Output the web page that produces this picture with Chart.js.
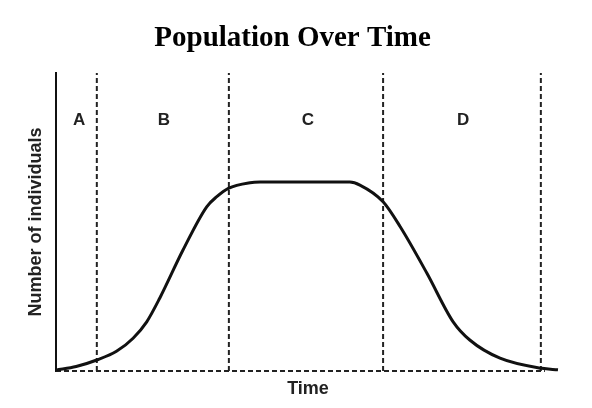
<!DOCTYPE html>
<html>
<head>
<meta charset="utf-8">
<script src="https://cdn.jsdelivr.net/npm/chart.js@4/dist/chart.umd.min.js"></script>
<style>
  html, body { margin: 0; padding: 0; background: #fff; }
  #c { display: block; }
</style>
</head>
<body>
<canvas id="c" width="592" height="408"></canvas>
<script>
// Time (arbitrary units 0-100) and population (0-100 % of axis height)
const timeValues = [0, 4.0, 8.1, 12.0, 15.3, 18.0, 20.6, 25.2, 29.9, 31.9, 34.2, 38.5, 40.5, 58.3, 60.3, 64.9, 68.3, 73.6, 78.8, 82.1, 88.1, 96.4, 99.6];
const populationValues = [0.3, 1.5, 3.7, 6.6, 11.0, 16.5, 24.5, 40.6, 55.1, 58.5, 61.3, 63.2, 63.4, 63.4, 62.4, 56.8, 48.4, 32.8, 16.5, 10.4, 4.3, 0.9, 0.4];
// Phase boundaries (dashed verticals), phase labels and their positions
const phaseBoundaries = [8.1, 34.3, 64.9, 96.2];
const phaseLabels = ['A', 'B', 'C', 'D'];
const phaseLabelTimes = [4.6, 21.4, 50.0, 80.8];
const baselineEnd = 97;
const labelLevel = 84;

const dashStyle = { borderColor: '#222', borderWidth: 2, borderDash: [5, 3], pointRadius: 0, clip: false, tension: 0 };

const datasets = [
  {
    data: timeValues.map((t, i) => ({ x: t, y: populationValues[i] })),
    borderColor: '#111',
    borderWidth: 3,
    pointRadius: 0,
    cubicInterpolationMode: 'monotone',
    clip: false,
    order: 0
  },
  Object.assign({ data: [{ x: 0, y: 0 }, { x: baselineEnd, y: 0 }], order: 1 }, dashStyle)
];
phaseBoundaries.forEach(b => {
  datasets.push(Object.assign({ data: [{ x: b, y: 0 }, { x: b, y: 100 }], order: 1 }, dashStyle));
});

const phaseLabelPlugin = {
  id: 'phaseLabels',
  afterDatasetsDraw(chart) {
    const { ctx, scales: { x, y } } = chart;
    ctx.save();
    ctx.font = 'bold 17px "Liberation Sans", Arial, sans-serif';
    ctx.fillStyle = '#222';
    ctx.textAlign = 'center';
    ctx.textBaseline = 'middle';
    phaseLabels.forEach((lab, i) => {
      ctx.fillText(lab, x.getPixelForValue(phaseLabelTimes[i]), y.getPixelForValue(labelLevel));
    });
    ctx.restore();
  }
};

new Chart(document.getElementById('c'), {
  type: 'line',
  data: { datasets },
  options: {
    responsive: false,
    animation: false,
    layout: { padding: { left: 25.2, right: 32, top: 0, bottom: 0 } },
    plugins: {
      legend: { display: false },
      tooltip: { enabled: false },
      title: {
        display: true,
        text: 'Population Over Time',
        color: '#000',
        font: { family: '"Liberation Serif", "Times New Roman", serif', size: 29, weight: 'bold', lineHeight: 1.2 },
        padding: { top: 21.6, bottom: 16.6 }
      }
    },
    scales: {
      x: {
        type: 'linear',
        min: 0,
        max: 100,
        grid: { display: false, drawTicks: false },
        ticks: { display: false },
        border: { display: false },
        title: {
          display: true,
          text: 'Time',
          color: '#222',
          font: { family: '"Liberation Sans", Arial, sans-serif', size: 18, weight: 'bold', lineHeight: 1.2 },
          padding: { top: 7.2, bottom: 8.2 }
        }
      },
      y: {
        min: 0,
        max: 100,
        grid: { display: false, drawTicks: false },
        ticks: { display: false },
        border: { display: true, color: '#111', width: 2 },
        title: {
          display: true,
          text: 'Number of individuals',
          color: '#222',
          font: { family: '"Liberation Sans", Arial, sans-serif', size: 18, weight: 'bold', lineHeight: 1.2 },
          padding: { top: 0, bottom: 9.2 }
        }
      }
    }
  },
  plugins: [phaseLabelPlugin]
});
</script>
</body>
</html>
